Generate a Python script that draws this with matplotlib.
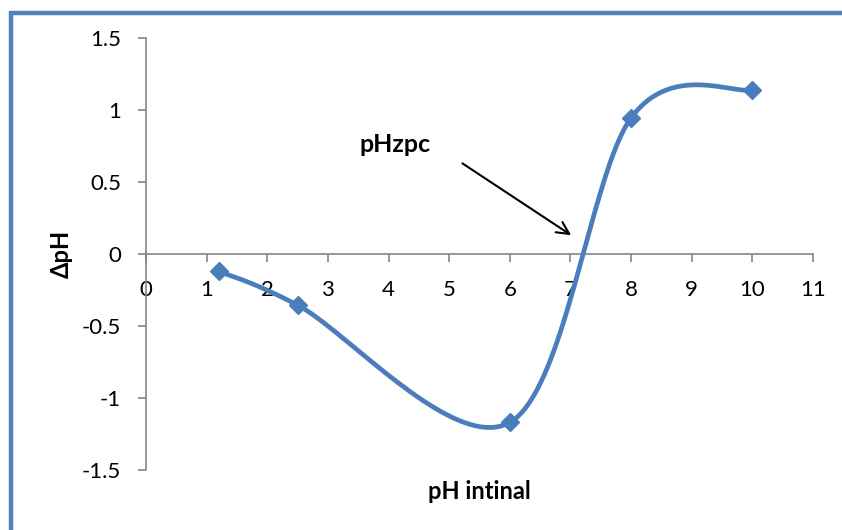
import numpy as np
import matplotlib.pyplot as plt
from matplotlib.lines import Line2D

plt.rcParams.update({'font.size': 16, 'font.family': ['Lato', 'DejaVu Sans']})

# data
ph_initial = [1.2, 2.5, 6, 8, 10]
delta_ph = [-0.12, -0.355, -1.17, 0.945, 1.14]
x_ticks = list(range(0, 12))
y_ticks = [-1.5, -1, -0.5, 0, 0.5, 1, 1.5]

blue = "#4A7EBB"
grey = "#868686"


def excel_smooth(xs, ys, n=40):
    # Bezier smoothing like Excel's "smoothed line"
    p = np.column_stack([xs, ys]).astype(float)
    pts = []
    for i in range(len(p) - 1):
        p0 = p[i - 1] if i > 0 else p[i]
        p1, p2 = p[i], p[i + 1]
        p3 = p[i + 2] if i + 2 < len(p) else p[i + 1]
        c1 = p1 + (p2 - p0) / 6
        c2 = p2 - (p3 - p1) / 6
        t = np.linspace(0, 1, n)[:, None]
        seg = ((1 - t) ** 3) * p1 + 3 * ((1 - t) ** 2) * t * c1 + 3 * (1 - t) * t ** 2 * c2 + t ** 3 * p2
        pts.append(seg if i == 0 else seg[1:])
    pts = np.vstack(pts)
    return pts[:, 0], pts[:, 1]


fig = plt.figure(figsize=(8.42, 5.3), dpi=100)
ax = fig.add_axes([146 / 842, 60 / 530, 667 / 842, 432 / 530])

sx, sy = excel_smooth(ph_initial, delta_ph)
ax.plot(sx, sy, color=blue, lw=3.4, solid_capstyle='round', zorder=3)
ax.plot(ph_initial, delta_ph, 'D', color=blue, markersize=9, zorder=4)

ax.set_xlim(0, 11)
ax.set_ylim(-1.5, 1.5)
ax.set_xticks(x_ticks)
ax.set_yticks(y_ticks)
ax.set_yticklabels(['-1.5', '-1', '-0.5', '0', '0.5', '1', '1.5'])

ax.spines['top'].set_visible(False)
ax.spines['right'].set_visible(False)
ax.spines['bottom'].set_position(('data', 0))
for s in ('left', 'bottom'):
    ax.spines[s].set_color(grey)
    ax.spines[s].set_linewidth(1.2)
ax.tick_params(axis='both', colors=grey, labelcolor='black', length=6, width=1.2, direction='out')
ax.tick_params(axis='x', pad=13)
ax.tick_params(axis='y', pad=12)

ax.set_xlabel("pH intinal", fontweight='bold', fontsize=17)
ax.xaxis.set_label_coords(0.5, -0.022)
ax.set_ylabel("\u0394pH", fontweight='bold', fontsize=17)
ax.yaxis.set_label_coords(-0.11, 0.5)

ax.text(4.1, 0.76, "pHzpc", fontweight='bold', fontsize=18, ha='center', va='center')
ax.annotate("", xy=(7.05, 0.12), xytext=(5.18, 0.64),
            arrowprops=dict(arrowstyle='->', color='black', lw=1.5, mutation_scale=22))

# blue frame around the chart area
fig.add_artist(Line2D([11 / 842, 11 / 842], [0, 1 - 11 / 530], color="#4F81BD", lw=3.2,
                      transform=fig.transFigure, solid_capstyle='butt'))
fig.add_artist(Line2D([9 / 842, 1], [1 - 12.5 / 530, 1 - 12.5 / 530], color="#4F81BD", lw=3.2,
                      transform=fig.transFigure, solid_capstyle='butt'))

plt.savefig("out.png", dpi=100)
